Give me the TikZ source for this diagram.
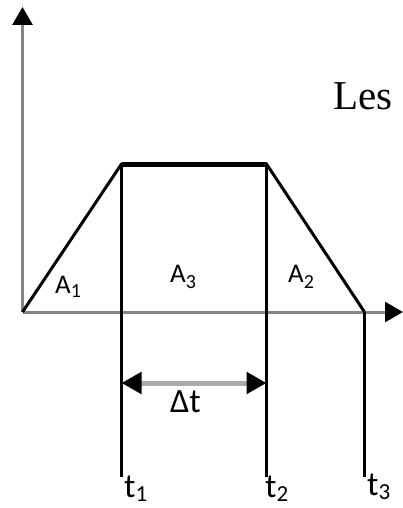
\documentclass[tikz,border=0pt]{standalone}
\usepackage{fontspec}
\setmainfont{Carlito}
\newfontfamily\serifface{Liberation Serif}
\usetikzlibrary{arrows.meta}
\definecolor{axisgray}{HTML}{858585}
\definecolor{dtgray}{HTML}{AAAAAA}
\begin{document}
\begin{tikzpicture}[x=1pt,y=-1pt,
  axis/.style={draw=axisgray,line width=3pt},
  bigtip/.style={-{Triangle[length=18pt,width=20pt,color=black]}},
  shape line/.style={draw=black,line width=3pt,line join=miter},
  vline/.style={draw=black,line width=3pt},
  lab/.style={inner sep=0pt,anchor=base west,font=\fontsize{27}{27}\selectfont},
  tlab/.style={inner sep=0pt,anchor=base west,font=\fontsize{34}{34}\selectfont}]
\useasboundingbox (0,0) rectangle (403,508);
% coordinates
\coordinate (O) at (22.5,312);
\coordinate (ytop) at (22.5,7);
\coordinate (xend) at (403,312);
\coordinate (P1) at (121.5,164);
\coordinate (P2) at (266.5,164);
\coordinate (P3) at (364.5,312);
\coordinate (B1) at (121.5,477);
\coordinate (B2) at (266.5,477);
\coordinate (B3) at (364.5,477);
\coordinate (D1) at (121.5,383);
\coordinate (D2) at (266.5,383);
% axes
\draw[axis,bigtip] (O) -- (ytop);
\draw[axis,bigtip] (O) -- (xend);
% trapezoid
\draw[shape line] (O) -- (P1) -- (P2) -- (P3);
\draw[draw=black,line width=5pt] (P1) -- (P2);
% verticals
\draw[vline] (P1) -- (B1);
\draw[vline] (P2) -- (B2);
\draw[vline] (P3) -- (B3);
% delta t arrow
\draw[draw=dtgray,line width=5pt,{Triangle[length=20pt,width=21pt,color=black]}-{Triangle[length=20pt,width=21pt,color=black]}] (D1) -- (D2);
% labels
\node[lab] (a1) at (55,293) {A\raisebox{-4pt}{\fontsize{20}{20}\selectfont 1}};
\node[lab] (a3) at (170,282) {A\raisebox{-6pt}{\fontsize{20}{20}\selectfont 3}};
\node[lab] (a2) at (288,282) {A\raisebox{-6pt}{\fontsize{20}{20}\selectfont 2}};
\node[tlab] (dt) at (170,412) {Δt};
\node[tlab] (t1) at (124,497) {t\raisebox{-4pt}{\fontsize{23}{23}\selectfont 1}};
\node[tlab] (t2) at (265,497) {t\raisebox{-4pt}{\fontsize{23}{23}\selectfont 2}};
\node[tlab] (t3) at (367,495) {t\raisebox{-4pt}{\fontsize{23}{23}\selectfont 3}};
\node[inner sep=0pt,anchor=base west,font=\serifface\fontsize{41}{41}\selectfont] (les) at (333,110) {Les};
\end{tikzpicture}
\end{document}
